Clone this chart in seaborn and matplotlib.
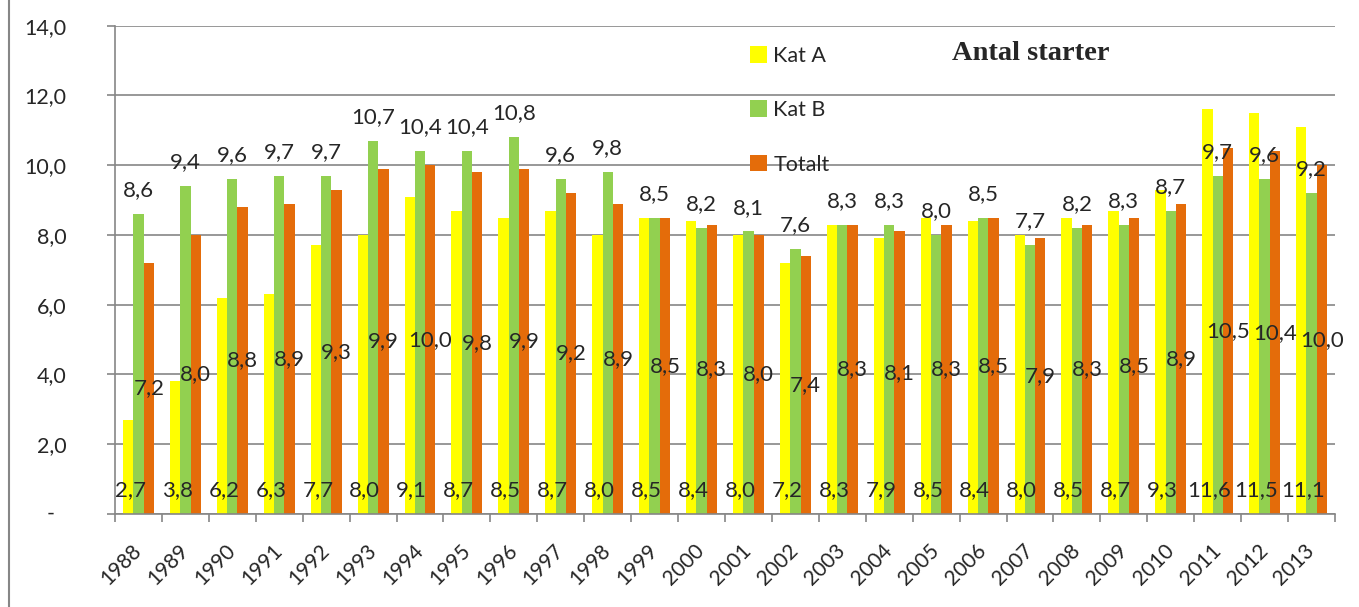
import pandas as pd
import numpy as np
import matplotlib
matplotlib.use("Agg")
import matplotlib.pyplot as plt
from matplotlib.lines import Line2D
import seaborn as sns

# --- data ---
years = [str(y) for y in range(1988, 2014)]
kat_a = [2.7, 3.8, 6.2, 6.3, 7.7, 8.0, 9.1, 8.7, 8.5, 8.7, 8.0, 8.5, 8.4,
         8.0, 7.2, 8.3, 7.9, 8.5, 8.4, 8.0, 8.5, 8.7, 9.3, 11.6, 11.5, 11.1]
kat_b = [8.6, 9.4, 9.6, 9.7, 9.7, 10.7, 10.4, 10.4, 10.8, 9.6, 9.8, 8.5, 8.2,
         8.1, 7.6, 8.3, 8.3, 8.0, 8.5, 7.7, 8.2, 8.3, 8.7, 9.7, 9.6, 9.2]
totalt = [7.2, 8.0, 8.8, 8.9, 9.3, 9.9, 10.0, 9.8, 9.9, 9.2, 8.9, 8.5, 8.3,
          8.0, 7.4, 8.3, 8.1, 8.3, 8.5, 7.9, 8.3, 8.5, 8.9, 10.5, 10.4, 10.0]
series_names = ["Kat A", "Kat B", "Totalt"]
colors = ["#FFFF00", "#92D050", "#E46C0A"]
y_ticks = [0, 2, 4, 6, 8, 10, 12, 14]

df = pd.DataFrame({
    "year": years * 3,
    "serie": np.repeat(series_names, len(years)),
    "value": kat_a + kat_b + totalt,
})

sns.set_theme(style="white")
plt.rcParams["font.family"] = ["Lato", "DejaVu Sans"]

def fmt(v):
    return f"{v:.1f}".replace(".", ",")

fig = plt.figure(figsize=(13.59, 6.07), dpi=100)
ax = fig.add_axes([115 / 1359, 1 - 514 / 607, (1335 - 115) / 1359, (514 - 25.7) / 607])

sns.barplot(data=df, x="year", y="value", hue="serie", hue_order=series_names,
            palette=colors, saturation=1, width=0.66, linewidth=0, ax=ax)

gray = "#868686"
ax.set_xlim(-0.5, len(years) - 0.5)
ax.set_ylim(0, 14)
ax.set_yticks(y_ticks)
ax.set_yticklabels(["" if t == 0 else fmt(t) for t in y_ticks], fontsize=15.5)
ax.yaxis.grid(True, color=gray, lw=1.2)
ax.set_axisbelow(True)
ax.set_xlabel("")
ax.set_ylabel("")
for s in ["top", "right"]:
    ax.spines[s].set_visible(False)
for s in ["left", "bottom"]:
    ax.spines[s].set_color(gray)
    ax.spines[s].set_linewidth(1.2)

ax.tick_params(axis="y", direction="out", length=6, width=1.2, color=gray, pad=29, left=True)
ax.set_xticks(np.arange(-0.5, len(years)), minor=True)
ax.tick_params(axis="x", which="minor", direction="out", length=6, width=1.2, color=gray, bottom=True)
ax.tick_params(axis="x", which="major", length=0, pad=24)
for lbl in ax.get_xticklabels():
    lbl.set_rotation(45)
    lbl.set_ha("right")
    lbl.set_va("center")
    lbl.set_rotation_mode("anchor")
    lbl.set_fontsize(15)

# zero label drawn as a dash
ax.text(-0.053, 0, "-", transform=ax.get_yaxis_transform(), ha="center", va="center",
        fontsize=15.5)

# data labels
cont_a, cont_b, cont_t = ax.containers[:3]
for bar, v in zip(cont_a, kat_a):
    ax.annotate(fmt(v), (bar.get_x() + bar.get_width() / 2, 0), xytext=(1.5, 10),
                textcoords="offset points", ha="center", va="bottom", fontsize=16)
ax.bar_label(cont_b, labels=[fmt(v) for v in kat_b], padding=10, fontsize=16)
ax.bar_label(cont_t, labels=[fmt(v) for v in totalt], label_type="center", fontsize=16)

sns.move_legend(ax, "upper left", bbox_to_anchor=(739 / 1359, 1 - 35 / 607),
                bbox_transform=fig.transFigure, frameon=False, title=None,
                fontsize=15.5, handlelength=0.8, handleheight=0.8,
                handletextpad=0.3, labelspacing=1.6, borderpad=0)

fig.text(1031 / 1359, 1 - 53 / 607, "Antal starter", ha="center", va="center",
         family="Liberation Serif", fontweight="bold", fontsize=20.5)

fig.add_artist(Line2D([9 / 1359, 9 / 1359], [0, 1], transform=fig.transFigure,
                      color=gray, lw=1.5))

fig.savefig("out.png", dpi=100, facecolor="white")
